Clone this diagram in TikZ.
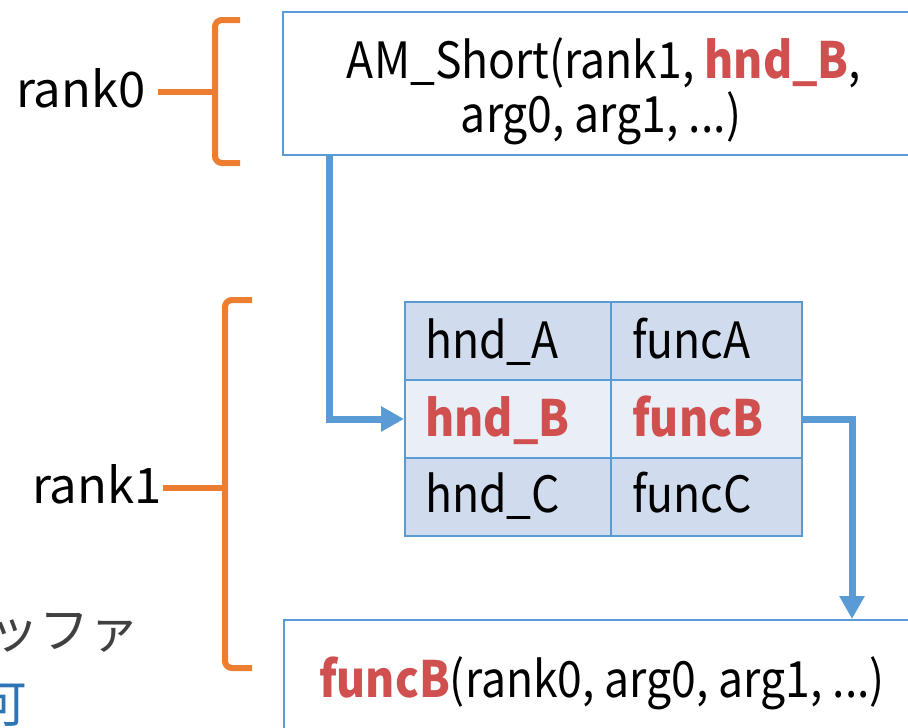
\documentclass[tikz,border=0pt]{standalone}
\usepackage{fontspec}
\setmainfont[FakeStretch=0.89]{Noto Sans CJK JP}
\newfontfamily\jpfont{Noto Sans CJK JP}
\usetikzlibrary{arrows.meta}
\definecolor{lineblue}{HTML}{5B9BD5}
\definecolor{rowdark}{HTML}{D0DCEE}
\definecolor{rowlight}{HTML}{E9EEF7}
\definecolor{hired}{HTML}{D05050}
\definecolor{braceor}{HTML}{ED7D31}
\definecolor{jpgrey}{HTML}{404040}
\definecolor{jpblue}{HTML}{2E75B6}
\tikzset{
  txt/.style={font=\fontsize{50}{60}\selectfont, inner sep=0pt},
  ranktxt/.style={txt, anchor=base west, font=\fontsize{49}{60}\selectfont\jpfont},
  frame/.style={draw=lineblue, line width=2pt, fill=white},
  cell/.style={draw=lineblue, line width=2pt, minimum height=78pt, inner sep=0pt},
  celltxt/.style={txt, anchor=base west},
  conn/.style={draw=lineblue, line width=7pt, -{Triangle[length=23pt,width=24pt]}},
  brace/.style={draw=braceor, line width=6pt, rounded corners=7pt}
}
\begin{document}
\begin{tikzpicture}[x=1pt,y=-1pt]
\useasboundingbox (0,0) rectangle (908,728);
\clip (0,0) rectangle (908,728);
% top box
\node[frame, minimum width=642pt, minimum height=143pt] (top) at (604,83.5) {};
\node[txt, anchor=base] (l1) at (604,78) {AM\_Short(rank1, \textcolor{hired}{\textbf{hnd\_B}},};
\node[txt, anchor=base] (l2) at (601,132) {arg0, arg1, ...)};
% bottom box
\node[frame, minimum width=642pt, minimum height=180pt, anchor=north west] (bot) at (283,619) {};
\node[txt, anchor=base] (bt) at (602,697) {\textcolor{hired}{\textbf{funcB}}(rank0, arg0, arg1, ...)};
% table
\node[cell, fill=rowdark, minimum width=206pt, anchor=north west] (hA) at (404,301) {};
\node[cell, fill=rowdark, minimum width=191pt, anchor=north west] (fA) at (610,301) {};
\node[cell, fill=rowlight, minimum width=206pt, anchor=north west] (hB) at (404,379) {};
\node[cell, fill=rowlight, minimum width=191pt, anchor=north west] (fB) at (610,379) {};
\node[cell, fill=rowdark, minimum width=206pt, anchor=north west] (hC) at (404,457) {};
\node[cell, fill=rowdark, minimum width=191pt, anchor=north west] (fC) at (610,457) {};
\node[celltxt] (thA) at (425,358) {hnd\_A};
\node[celltxt] (tfA) at (632,358) {funcA};
\node[celltxt, text=hired, font=\fontsize{50}{60}\selectfont\bfseries] (thB) at (425,436) {hnd\_B};
\node[celltxt, text=hired, font=\fontsize{50}{60}\selectfont\bfseries] (tfB) at (632,436) {funcB};
\node[celltxt] (thC) at (425,512) {hnd\_C};
\node[celltxt] (tfC) at (632,512) {funcC};
% connectors
\coordinate (s1) at (329,155);
\coordinate (e2) at (852,619);
\draw[conn] (s1) |- (hB.west);
\draw[conn] (fB.east) -| (e2);
% braces
\draw[brace] (240,20) -- (215,20) -- (215,163) -- (240,163);
\draw[brace] (158,92) -- (215,92);
\draw[brace] (252,300) -- (225,300) -- (225,668) -- (252,668);
\draw[brace] (163,488) -- (225,488);
\node[ranktxt] (r0) at (16,107) {rank0};
\node[ranktxt] (r1) at (32,503) {rank1};
% clipped Japanese text
\node[txt, anchor=base east, text=jpgrey, font=\fontsize{50}{60}\selectfont\jpfont] (jp1) at (140,648) {バッファ};
\node[txt, anchor=base east, text=jpblue, font=\fontsize{50}{60}\selectfont\jpfont] (jp2) at (28,722) {可};
\end{tikzpicture}
\end{document}
